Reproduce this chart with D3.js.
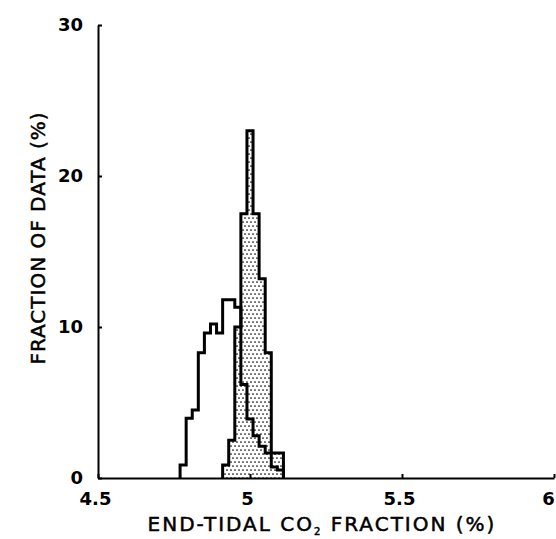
<!DOCTYPE html>
<html>
<head>
<meta charset="utf-8">
<script src="https://cdn.jsdelivr.net/npm/d3@7"></script>
<style>
  html, body { margin: 0; padding: 0; background: #fff; }
  svg { display: block; }
</style>
</head>
<body>
<svg id="chart" width="556" height="539"></svg>
<script>
// ---- data ----
const xTicks = [4.5, 5, 5.5, 6];
const xTickLabels = ["4.5", "5", "5.5", "6"];
const yTicks = [0, 10, 20, 30];
const yTickLabels = ["0", "10", "20", "30"];

// open (outline) histogram: bin left edges and values (%)
const openBinStarts = [4.77, 4.79, 4.81, 4.83, 4.85, 4.87, 4.89, 4.91, 4.93, 4.95, 4.97, 4.99, 5.01, 5.03, 5.05, 5.07, 5.09];
const openValues    = [0.86, 3.95, 4.5, 8.3, 9.6, 10.2, 9.6, 11.8, 11.8, 11.3, 6.2, 3.9, 2.8, 2.1, 1.66, 0.73, 0.53];

// shaded (dotted) histogram
const shadedBinStarts = [4.91, 4.93, 4.95, 4.97, 4.99, 5.01, 5.03, 5.05, 5.07, 5.09];
const shadedValues    = [0.86, 2.5, 10.0, 17.5, 23.0, 17.5, 13.2, 8.3, 1.66, 1.66];
const binWidth = 0.02;

const xTitle = "END-TIDAL CO";
const xTitleSub = "2";
const xTitleEnd = " FRACTION (%)";
const yTitle = "FRACTION OF DATA (%)";

// ---- drawing ----
const svg = d3.select("#chart");
const x = d3.scaleLinear().domain([4.5, 6]).range([98, 554]);
const y = d3.scaleLinear().domain([0, 30]).range([478, 25]);

const defs = svg.append("defs");
const pat = defs.append("pattern")
  .attr("id", "dots").attr("patternUnits", "userSpaceOnUse")
  .attr("width", 4).attr("height", 8);
pat.append("rect").attr("width", 4).attr("height", 8).attr("fill", "#fff");
pat.append("circle").attr("cx", 1).attr("cy", 2).attr("r", 0.85).attr("fill", "#000");
pat.append("circle").attr("cx", 3).attr("cy", 6).attr("r", 0.85).attr("fill", "#000");

function stepPoints(starts, values) {
  const pts = [[x(starts[0]), y(0)]];
  starts.forEach((s, i) => {
    pts.push([x(s), y(values[i])]);
    pts.push([x(s + binWidth), y(values[i])]);
  });
  pts.push([x(starts[starts.length - 1] + binWidth), y(0)]);
  return pts;
}
const line = d3.line();

// shaded fill
svg.append("path")
  .attr("d", line(stepPoints(shadedBinStarts, shadedValues)) + "Z")
  .attr("fill", "url(#dots)").attr("stroke", "none");

// axes
const yAxis = d3.axisLeft(y).tickValues(yTicks)
  .tickFormat((d, i) => yTickLabels[i])
  .tickSizeInner(-4).tickSizeOuter(0).tickPadding(15);
const gy = svg.append("g").attr("transform", `translate(${x(4.5)},0)`).call(yAxis);

const xAxis = d3.axisBottom(x).tickValues(xTicks)
  .tickFormat((d, i) => xTickLabels[i])
  .tickSizeInner(-4).tickSizeOuter(0).tickPadding(14);
const gx = svg.append("g").attr("transform", `translate(0,${y(0)})`).call(xAxis);

[gx, gy].forEach(g => {
  g.select(".domain").attr("stroke", "#000").attr("stroke-width", 2);
  g.selectAll(".tick line").attr("stroke", "#000").attr("stroke-width", 2);
  g.selectAll(".tick text")
    .attr("fill", "#000")
    .style("font-family", "'DejaVu Sans', sans-serif")
    .style("font-weight", "bold")
    .style("font-size", "18px");
});
gx.selectAll(".tick text").attr("x", (d, i) => i === xTicks.length - 1 ? -6 : -3);

// outlines
svg.append("path")
  .attr("d", line(stepPoints(shadedBinStarts, shadedValues)))
  .attr("fill", "none").attr("stroke", "#000").attr("stroke-width", 3)
  .attr("stroke-linejoin", "miter");
svg.append("path")
  .attr("d", line(stepPoints(openBinStarts, openValues)))
  .attr("fill", "none").attr("stroke", "#000").attr("stroke-width", 3)
  .attr("stroke-linejoin", "miter");

// titles
const xt = svg.append("text")
  .attr("x", 322).attr("y", 531)
  .attr("text-anchor", "middle")
  .style("font-family", "'DejaVu Sans', sans-serif")
  .style("font-size", "20px")
  .style("letter-spacing", "2px")
  .attr("fill", "#000").attr("stroke", "#000").attr("stroke-width", 0.5);
xt.append("tspan").text(xTitle);
xt.append("tspan").attr("font-size", "10px").attr("dy", 4).text(xTitleSub);
xt.append("tspan").attr("dy", -4).text(xTitleEnd);

svg.append("text")
  .attr("transform", "translate(45,238) rotate(-90)")
  .attr("text-anchor", "middle")
  .style("font-family", "'DejaVu Sans', sans-serif")
  .style("font-size", "20px")
  .style("letter-spacing", "1px")
  .attr("fill", "#000").attr("stroke", "#000").attr("stroke-width", 0.5)
  .text(yTitle);
</script>
</body>
</html>
